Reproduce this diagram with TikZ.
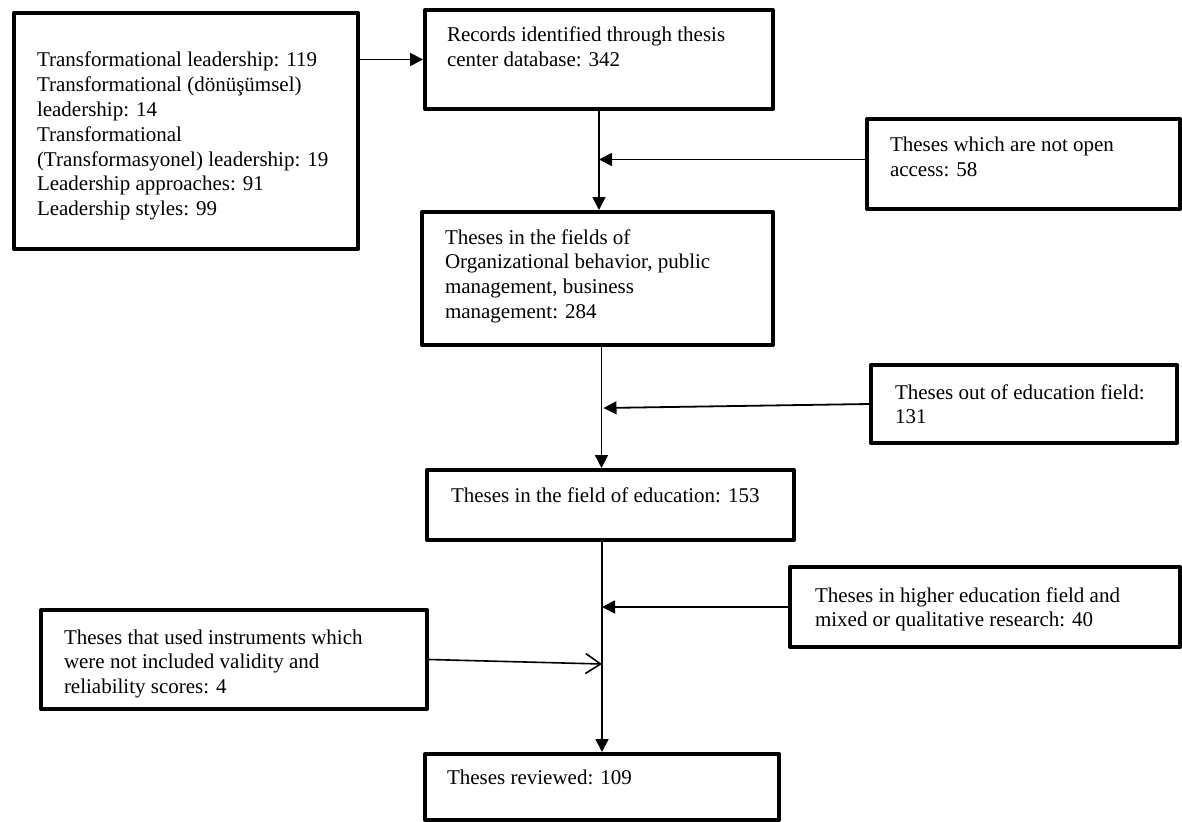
\documentclass[tikz,border=0pt]{standalone}
\usepackage{fontspec}
\setmainfont{Liberation Serif}
\usetikzlibrary{arrows.meta,calc}
\newcommand{\mybt}[5]{\parbox[c][#2][t]{#1}{\raggedright\setlength{\leftskip}{#3}\setlength{\parindent}{0pt}\rule{0pt}{#4}#5}}
\tikzset{
  bx/.style={draw, line width=4pt, line join=round, inner sep=0pt, anchor=north west},
  arr/.style={line width=1.8pt, -{Triangle[length=13pt,width=13pt]}},
  oarr/.style={line width=1.6pt, -{Straight Barb[length=15pt,width=20pt,line width=1.6pt]}}
}
\begin{document}
\begin{tikzpicture}[x=1pt,y=1pt,font=\fontsize{21}{24.8}\selectfont]
\useasboundingbox (0,0) rectangle (1182,-821);

\node[bx] (L) at (12,-11) {\mybt{344pt}{236pt}{23pt}{54pt}{Transformational leadership: 119\\Transformational (dönüşümsel)\\leadership: 14\\Transformational\\(Transformasyonel) leadership: 19\\Leadership approaches: 91\\Leadership styles: 99}};

\node[bx] (R) at (423,-8) {\mybt{348pt}{99pt}{22pt}{32pt}{Records identified through thesis\\center database: 342}};

\node[bx] (N) at (865,-117) {\mybt{313pt}{90pt}{23pt}{33pt}{Theses which are not open\\access: 58}};

\node[bx] (F) at (420,-210) {\mybt{351pt}{133pt}{23pt}{32pt}{Theses in the fields of\\Organizational behavior, public\\management, business\\management: 284}};

\node[bx] (O) at (869,-363) {\mybt{306pt}{78pt}{24pt}{34pt}{Theses out of education field:\\131}};

\node[bx] (E) at (425,-468) {\mybt{367pt}{70pt}{24pt}{32pt}{Theses in the field of education: 153}};

\node[bx] (H) at (788,-565) {\mybt{390pt}{80pt}{25pt}{35pt}{Theses in higher education field and\\mixed or qualitative research: 40}};

\node[bx] (I) at (39,-608) {\mybt{386pt}{99pt}{23pt}{34pt}{Theses that used instruments which\\were not included validity and\\reliability scores: 4}};

\node[bx] (V) at (423,-752) {\mybt{354pt}{66pt}{22pt}{30pt}{Theses reviewed: 109}};

% connectors
\draw[arr] (L.east |- R.west) -- (R.west);
\draw[arr] (R.south) -- (R.south |- F.north);
\coordinate (n1) at ($(N.west)+(0,4.5)$);
\draw[arr] (n1) -- (n1 -| R.south);
\draw[arr] ([xshift=4pt]F.south) -- ([xshift=4pt]F.south |- E.north);
\coordinate (oj) at ($([xshift=6pt]F.south |- O.west)+(0,-4)$);
\draw[arr] (O.west) -- (oj);
\draw[arr] (E.south -| V.north) -- (V.north);
\draw[arr] (H.west) -- (H.west -| V.north);
\coordinate (ij) at ($(I.east -| V.north)+(0,-4.5)$);
\draw[oarr] (I.east) -- (ij);
\end{tikzpicture}
\end{document}
